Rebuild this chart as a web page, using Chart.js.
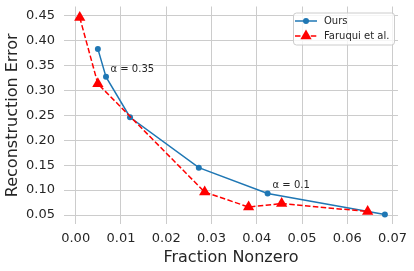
<!DOCTYPE html>
<html>
<head>
<meta charset="utf-8">
<script src="https://cdn.jsdelivr.net/npm/chart.js@4"></script>
<style>
  html, body { margin: 0; padding: 0; background: #fff; }
  #wrap { width: 414px; height: 271px; }
</style>
</head>
<body>
<div id="wrap"><canvas id="chart" width="414" height="271"></canvas></div>
<script>
// values
const oursX = [0.0049, 0.0067, 0.0120, 0.0272, 0.0424, 0.0683];
const oursY = [0.383, 0.327, 0.246, 0.145, 0.093, 0.051];
const faruquiX = [0.0009, 0.0049, 0.0285, 0.0382, 0.0455, 0.0645];
const faruquiY = [0.446, 0.313, 0.096, 0.066, 0.073, 0.057];
const xTicks = [0, 0.01, 0.02, 0.03, 0.04, 0.05, 0.06, 0.07];
const yTicks = [0.05, 0.10, 0.15, 0.20, 0.25, 0.30, 0.35, 0.40, 0.45];
const notes = [
  { text: "α = 0.35", x: 0.0077, y: 0.342 },
  { text: "α = 0.1", x: 0.0435, y: 0.109 }
];

const FONT = "'DejaVu Sans', sans-serif";
const TEXT = "#262626";
const BLUE = "#1f77b4";
const RED = "#ff0000";

const toPts = (xs, ys) => xs.map((x, i) => ({ x: x, y: ys[i] }));

// text notes placed through the scales
const notePlugin = {
  id: "notes",
  afterDatasetsDraw(chart) {
    const ctx = chart.ctx;
    const sx = chart.scales.x, sy = chart.scales.y;
    ctx.save();
    ctx.font = "10px " + FONT;
    ctx.fillStyle = TEXT;
    ctx.textAlign = "left";
    ctx.textBaseline = "middle";
    notes.forEach(n => ctx.fillText(n.text, sx.getPixelForValue(n.x), sy.getPixelForValue(n.y)));
    ctx.restore();
  }
};

// matplotlib-like legend: line + marker sample
const legendPlugin = {
  id: "mplLegend",
  afterDraw(chart) {
    const ctx = chart.ctx;
    const a = chart.chartArea;
    const bx = a.right - 105, by = a.top + 6, bw = 101, bh = 32;
    ctx.save();
    ctx.fillStyle = "rgba(255,255,255,0.8)";
    ctx.strokeStyle = "#cccccc";
    ctx.lineWidth = 1;
    ctx.beginPath();
    ctx.roundRect(bx + 0.5, by + 0.5, bw, bh, 3);
    ctx.fill();
    ctx.stroke();
    chart.data.datasets.forEach((ds, i) => {
      const y = by + 8.5 + i * 15;
      const x0 = bx + 2, x1 = bx + 24;
      ctx.strokeStyle = ds.borderColor;
      ctx.lineWidth = ds.borderWidth;
      ctx.setLineDash(ds.borderDash || []);
      ctx.beginPath();
      ctx.moveTo(x0, y);
      ctx.lineTo(x1, y);
      ctx.stroke();
      ctx.setLineDash([]);
      ctx.fillStyle = ds.backgroundColor;
      Chart.helpers.drawPoint(ctx, {
        pointStyle: ds.pointStyle,
        radius: ds.pointRadius,
        borderWidth: 0
      }, (x0 + x1) / 2, y);
      ctx.fillStyle = TEXT;
      ctx.font = "10px " + FONT;
      ctx.textAlign = "left";
      ctx.textBaseline = "middle";
      ctx.fillText(ds.label, bx + 31, y);
    });
    ctx.restore();
  }
};

new Chart(document.getElementById("chart"), {
  type: "scatter",
  data: {
    datasets: [
      {
        label: "Ours",
        data: toPts(oursX, oursY),
        showLine: true,
        borderColor: BLUE,
        backgroundColor: BLUE,
        borderWidth: 1.5,
        pointStyle: "circle",
        pointRadius: 3,
        pointBorderWidth: 0,
        order: 2
      },
      {
        label: "Faruqui et al.",
        data: toPts(faruquiX, faruquiY),
        showLine: true,
        borderColor: RED,
        backgroundColor: RED,
        borderWidth: 1.5,
        borderDash: [5.5, 2.4],
        pointStyle: "triangle",
        pointRadius: 6.5,
        pointBorderWidth: 0,
        order: 1
      }
    ]
  },
  options: {
    responsive: false,
    animation: false,
    devicePixelRatio: 1,
    layout: { padding: { top: 5, right: 16, left: 0, bottom: 0 } },
    plugins: { legend: { display: false }, tooltip: { enabled: false } },
    scales: {
      x: {
        type: "linear",
        min: -0.00258,
        max: 0.0712,
        afterBuildTicks: s => { s.ticks = xTicks.map(v => ({ value: v })); },
        afterFit: s => { s.height = 47; s.paddingLeft = 0; s.paddingRight = 0; },
        grid: { color: "#cccccc", lineWidth: 1, drawTicks: false },
        border: { display: false },
        ticks: {
          padding: 7,
          color: TEXT,
          font: { family: FONT, size: 13 },
          callback: v => v.toFixed(2)
        },
        title: {
          display: true,
          text: "Fraction Nonzero",
          color: TEXT,
          font: { family: FONT, size: 16 },
          padding: { top: 2, bottom: 4 }
        }
      },
      y: {
        type: "linear",
        min: 0.032,
        max: 0.468,
        afterBuildTicks: s => { s.ticks = yTicks.map(v => ({ value: v })); },
        afterFit: s => { s.width = 64; s.paddingTop = 0; s.paddingBottom = 0; },
        grid: { color: "#cccccc", lineWidth: 1, drawTicks: false },
        border: { display: false },
        ticks: {
          padding: 9,
          color: TEXT,
          font: { family: FONT, size: 13 },
          callback: v => v.toFixed(2)
        },
        title: {
          display: true,
          text: "Reconstruction Error",
          color: TEXT,
          font: { family: FONT, size: 16 },
          padding: { top: 3, bottom: 0 }
        }
      }
    }
  },
  plugins: [notePlugin, legendPlugin]
});
</script>
</body>
</html>
